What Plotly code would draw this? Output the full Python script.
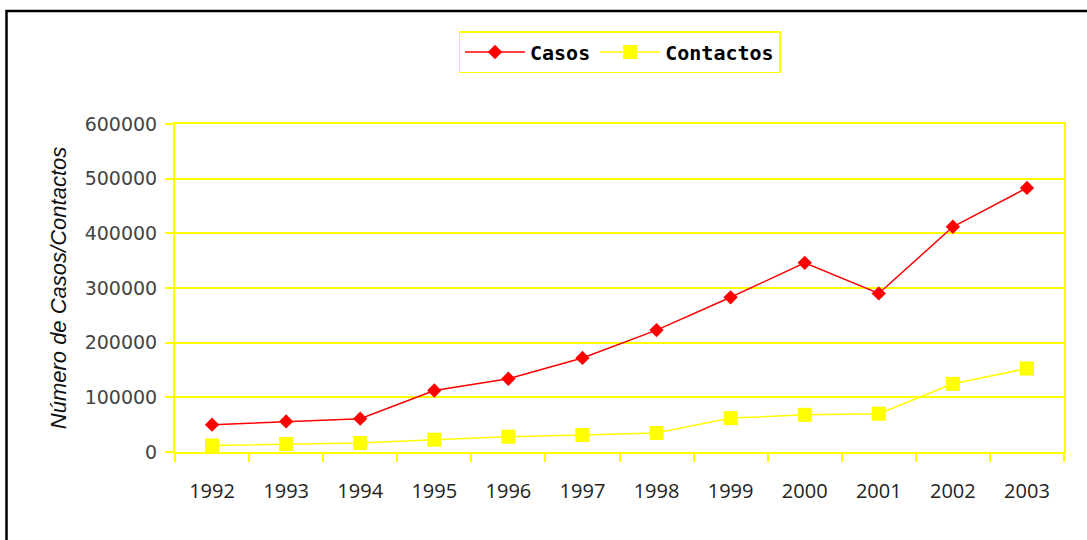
import plotly.graph_objects as go

years = ["1992", "1993", "1994", "1995", "1996", "1997", "1998", "1999", "2000", "2001", "2002", "2003"]
casos = [50000, 56000, 61000, 112500, 134000, 172000, 223000, 283000, 346000, 290000, 412000, 483000]
contactos = [12000, 14600, 16400, 22500, 28000, 31000, 34700, 62000, 68000, 70000, 124700, 152700]
y_ticks = [0, 100000, 200000, 300000, 400000, 500000, 600000]

fig = go.Figure()
fig.add_trace(go.Scatter(
    x=years, y=casos, name="Casos", mode="lines+markers",
    line=dict(color="#ff0000", width=1.5),
    marker=dict(symbol="diamond", size=11, color="#ff0000"),
))
fig.add_trace(go.Scatter(
    x=years, y=contactos, name="Contactos", mode="lines+markers",
    line=dict(color="#ffff00", width=1.5),
    marker=dict(symbol="square", size=14, color="#ffff00"),
))

L, R, T, B = 175, 23, 124, 88
W, H = 1087, 540
pw, ph = W - L - R, H - T - B

def px_x(p):
    return (p - L) / pw

def px_y(p):
    return (H - B - p) / ph

fig.update_layout(
    width=W, height=H,
    margin=dict(l=L, r=R, t=T, b=B),
    paper_bgcolor="white", plot_bgcolor="white",
    showlegend=True,
    legend=dict(
        orientation="h", x=0.5, xanchor="center", y=px_y(31), yanchor="top",
        bgcolor="white", bordercolor="#ffff00", borderwidth=1.5,
        font=dict(family="DejaVu Sans Mono", size=20, color="#000000", weight="bold"),
        itemwidth=60,
    ),
    xaxis=dict(
        type="category", categoryorder="array", categoryarray=years,
        range=[-0.5, len(years) - 0.5], autorange=False,
        showgrid=False, showline=True, linecolor="#ffff00", linewidth=2, mirror=True,
        ticks="outside", tickson="boundaries", ticklen=8, tickcolor="#ffff00", tickwidth=1.5,
        tickfont=dict(family="Open Sans", size=20, color="#222222"),
        ticklabelstandoff=20,
        zeroline=False,
    ),
    yaxis=dict(
        range=[0, 600000], tickvals=y_ticks, ticktext=[str(v) for v in y_ticks],
        showgrid=True, gridcolor="#ffff00", gridwidth=1.5,
        showline=True, linecolor="#ffff00", linewidth=2, mirror=True,
        ticks="outside", ticklen=8, tickcolor="#ffff00", tickwidth=1.5,
        tickfont=dict(family="DejaVu Sans", size=19, color="#444444"),
        ticklabelstandoff=4,
        zeroline=False,
        title=dict(text="<i>Número de Casos/Contactos</i>",
                   font=dict(family="Liberation Sans", size=22, color="#111111"),
                   standoff=12),
    ),
    shapes=[dict(
        type="rect", xref="paper", yref="paper",
        x0=px_x(6.5), x1=px_x(1095), y0=px_y(560), y1=px_y(11),
        line=dict(color="#000000", width=2.5), fillcolor="rgba(0,0,0,0)", layer="above",
    )],
)

fig.write_html("out.html", config={"displayModeBar": False},
               post_script="document.body.style.margin='0';")
